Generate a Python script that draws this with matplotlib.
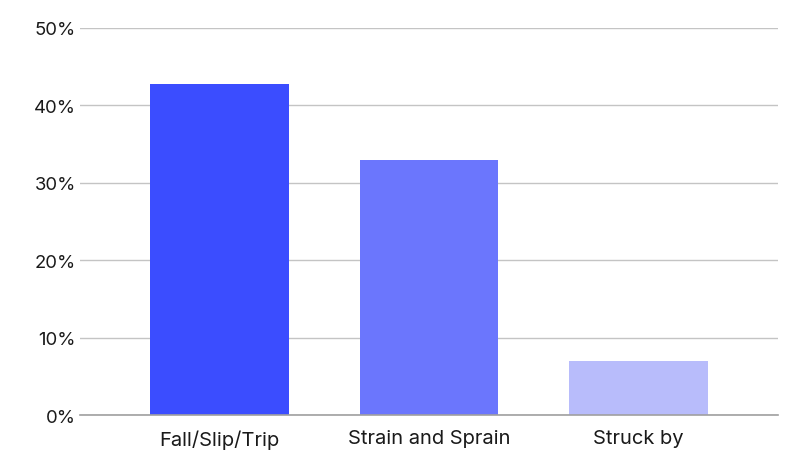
import matplotlib.pyplot as plt
from matplotlib.ticker import FuncFormatter

categories = ['Fall/Slip/Trip', 'Strain and Sprain', 'Struck by']
values = [42.8, 33.0, 7.0]
colors = ['#3b4dff', '#6b76fd', '#b8bcfb']
yticks = [0, 10, 20, 30, 40, 50]

plt.rcParams['font.family'] = ['Inter', 'DejaVu Sans']

fig = plt.figure(figsize=(8, 4.56), dpi=100)
ax = fig.add_axes([0.1, 0.087, 0.8725, 0.85])

x = range(len(categories))
ax.bar(x, values, width=0.663, color=colors, zorder=3)

ax.set_xlim(-0.666, 2.666)
ax.set_ylim(0, 50)
ax.set_yticks(yticks)
ax.yaxis.set_major_formatter(FuncFormatter(lambda v, p: f'{int(v)}%'))
ax.set_xticks(list(x))
ax.set_xticklabels(categories)

ax.grid(axis='y', color='#c4c4c4', linewidth=1, zorder=0)
for s in ['top', 'right', 'left']:
    ax.spines[s].set_visible(False)
ax.spines['bottom'].set_color('#a0a0a0')
ax.spines['bottom'].set_linewidth(1.2)
ax.spines['bottom'].set_zorder(4)

ax.tick_params(axis='both', length=0, labelcolor='#1a1a1a')
ax.tick_params(axis='x', pad=10, labelsize=14.5)
ax.tick_params(axis='y', pad=3, labelsize=13.3)

fig.savefig('out.png', dpi=100)
